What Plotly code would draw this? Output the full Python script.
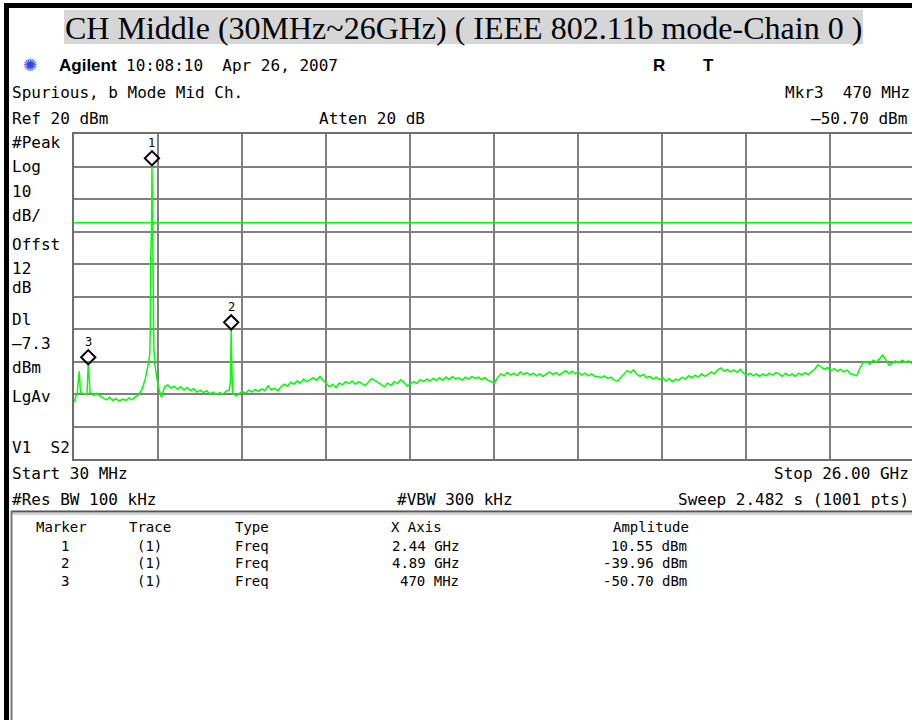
import plotly.graph_objects as go

# ---------------- data ----------------
start_ghz = 0.03
stop_ghz = 26.0
ref_dbm = 20
db_per_div = 10
n_div = 10
display_line_dbm = -7.3

floor_start_ghz = 0.03
floor_step_ghz = 0.1
floor_dbm = [
    -62.5, -59.5, -59.6, -59.8, -60.2, -59.6, -60.4, -59.8, -60.6, -61.2,
    -61.8, -61.0, -62.0, -61.4, -62.2, -61.6, -62.0, -61.2, -61.8, -60.8,
    -60.2, -58.5, -55.5, -50.5, -8.0, -51.0, -57.5, -61.0, -57.8, -57.2,
    -58.2, -57.6, -58.6, -57.8, -58.8, -58.0, -59.0, -58.4, -59.4, -58.8,
    -59.6, -59.0, -60.0, -59.4, -60.2, -59.6, -60.0, -59.2, -58.8, -59.5,
    -60.6, -60.0, -59.2, -59.8, -58.8, -59.4, -58.6, -59.2, -58.4, -59.0,
    -57.5, -58.8, -58.2, -59.0, -57.8, -57.0, -57.6, -56.4, -57.0, -56.0,
    -56.6, -55.4, -56.2, -55.6, -55.0, -55.8, -54.6, -55.8, -56.8, -57.8,
    -57.0, -58.0, -56.6, -57.2, -56.2, -56.8, -56.0, -57.0, -56.2, -56.8,
    -57.4, -56.4, -55.2, -55.8, -56.4, -57.2, -57.8, -56.6, -57.4, -56.2,
    -56.8, -55.6, -56.4, -57.6, -57.0, -56.2, -56.8, -55.6, -56.2, -55.4,
    -56.0, -55.2, -55.8, -55.0, -55.8, -54.8, -55.6, -54.6, -55.4, -55.0,
    -55.8, -54.8, -55.4, -54.6, -55.2, -54.8, -55.6, -55.0, -55.8, -56.2,
    -56.6, -54.8, -53.8, -54.4, -53.4, -54.2, -53.6, -54.4, -53.2, -54.0,
    -53.4, -54.2, -53.6, -54.4, -53.8, -54.6, -53.8, -53.2, -54.0, -53.4,
    -54.2, -53.6, -52.8, -53.8, -53.0, -53.8, -53.4, -54.2, -53.6, -54.4,
    -53.8, -54.6, -54.6, -55.0, -54.4, -55.2, -54.8, -55.8, -56.0, -55.0,
    -53.8, -52.8, -53.4, -52.6, -54.0, -54.6, -54.0, -55.0, -54.6, -55.4,
    -54.8, -55.6, -55.0, -56.0, -55.2, -56.2, -55.4, -55.8, -54.8, -55.4,
    -54.4, -55.0, -54.2, -54.8, -53.8, -54.6, -54.0, -53.2, -53.8, -52.6,
    -52.0, -53.0, -52.4, -53.2, -52.6, -53.4, -52.4, -53.6, -54.2, -53.6,
    -54.4, -53.8, -54.6, -53.8, -54.4, -53.6, -54.2, -53.4, -53.8, -54.6,
    -53.6, -54.4, -53.8, -54.6, -53.6, -54.2, -53.4, -54.0, -53.2, -52.4,
    -51.0, -51.6, -52.4, -51.8, -52.8, -52.2, -53.0, -52.4, -53.2, -52.6,
    -53.8, -54.0, -54.4, -52.0, -50.4, -50.0, -50.8, -49.6, -50.2, -49.2,
    -48.0, -49.6, -51.2, -50.4, -49.8, -50.4, -49.6, -50.2, -49.8, -50.6,
]

spike_freq_ghz = [0.19, 0.47, 2.37, 2.39, 2.40, 2.44, 2.466, 2.48, 2.50,
                  4.865, 4.89, 4.905, 26.0]
spike_dbm = [-53.0, -50.7, -48.0, -40.0, -19.0, 10.55, -13.0, -40.0, -46.0,
             -56.0, -39.96, -50.0, -50.0]

marker_ids = ["1", "2", "3"]
marker_freq_ghz = [2.44, 4.89, 0.47]
marker_dbm = [10.55, -39.96, -50.70]
marker_trace = ["(1)", "(1)", "(1)"]
marker_type = ["Freq", "Freq", "Freq"]
marker_freq_text = ["2.44 GHz", "4.89 GHz", "470 MHz"]
marker_amp_text = ["10.55 dBm", "-39.96 dBm", "-50.70 dBm"]

left_labels = ["#Peak", "Log", "10", "dB/", "Offst", "12", "dB", "Dl",
               "\u20137.3", "dBm", "LgAv", "V1  S2"]

# ---------------- layout geometry (pixels) ----------------
W, H = 912, 720
PL, PR, PT, PB = 74, 912, 134, 459
PW, PH = PR - PL, PB - PT
PX_PER_GHZ = 840 / (stop_ghz - start_ghz)
MONO = "DejaVu Sans Mono"
HS = 16  # header text size

def pxx(x):
    return (x - PL) / PW

def pxy(y):
    return (PB - y) / PH

# merge sweep
pts = [(floor_start_ghz + floor_step_ghz * i, v) for i, v in enumerate(floor_dbm)]
pts += list(zip(spike_freq_ghz, spike_dbm))
pts.sort(key=lambda p: p[0])
fx = [p[0] for p in pts]
fy = [p[1] for p in pts]

fig = go.Figure()

fig.add_trace(go.Scatter(x=fx, y=fy, mode="lines",
                         line=dict(color="#00ff00", width=1.5),
                         hoverinfo="skip", showlegend=False))

fig.add_trace(go.Scatter(x=[start_ghz, stop_ghz],
                         y=[display_line_dbm, display_line_dbm], mode="lines",
                         line=dict(color="#00ff00", width=1.5),
                         hoverinfo="skip", showlegend=False))

marker_offset_db = 2.0
fig.add_trace(go.Scatter(x=marker_freq_ghz,
                         y=[v + marker_offset_db for v in marker_dbm],
                         mode="markers",
                         marker=dict(symbol="diamond-open", size=11,
                                     color="black", line=dict(width=2, color="black")),
                         hoverinfo="skip", showlegend=False))

annotations = []
for mid, f, v in zip(marker_ids, marker_freq_ghz, marker_dbm):
    annotations.append(dict(x=f, y=v, xref="x", yref="y", text=mid,
                            showarrow=False, yshift=22,
                            font=dict(family=MONO, size=12, color="black")))

def txt(x, y, s, size=HS, anchor="left", family=MONO, color="black"):
    annotations.append(dict(x=pxx(x), y=pxy(y), xref="paper", yref="paper",
                            text=s, showarrow=False, xanchor=anchor,
                            yanchor="middle", borderpad=0,
                            font=dict(family=family, size=size, color=color)))

# title
txt(463, 28, "CH Middle (30MHz~26GHz) ( IEEE 802.11b mode-Chain 0 )",
    size=32, anchor="center", family="Liberation Serif")

# instrument header
txt(22, 65, "\u273a", size=17, color="#3344ee", family="DejaVu Sans")
txt(58, 65, "<b>Agilent</b>", size=17, family="Liberation Sans")
txt(125, 65, "10:08:10  Apr 26, 2007")
txt(652, 65, "<b>R</b>", size=17, family="Liberation Sans")
txt(702, 65, "<b>T</b>", size=17, family="Liberation Sans")
txt(11, 92, "Spurious, b Mode Mid Ch.")
txt(911, 92, "Mkr3  470 MHz", anchor="right")
txt(11, 119, "Ref 20 dBm")
txt(318, 119, "Atten 20 dB")
txt(908, 119, "\u201350.70 dBm", anchor="right")

left_label_y = [142, 166, 191, 215, 244, 268, 287, 319, 343, 367, 396, 447]
for s, y in zip(left_labels, left_label_y):
    txt(11, y, s)

txt(11, 473, "Start 30 MHz")
txt(910, 473, "Stop 26.00 GHz", anchor="right")
txt(11, 500, "#Res BW 100 kHz")
txt(396, 500, "#VBW 300 kHz")
txt(910, 500, "Sweep 2.482 s (1001 pts)", anchor="right")

TS = 14
txt(35, 527, "Marker", size=TS)
txt(128, 527, "Trace", size=TS)
txt(234, 527, "Type", size=TS)
txt(390, 527, "X Axis", size=TS)
txt(612, 527, "Amplitude", size=TS)
row_y = [546, 563, 581]
for i in range(3):
    y = row_y[i]
    txt(60, y, marker_ids[i], size=TS)
    txt(136, y, marker_trace[i], size=TS)
    txt(234, y, marker_type[i], size=TS)
    txt(460, y, marker_freq_text[i], size=TS, anchor="right")
    txt(688, y, marker_amp_text[i], size=TS, anchor="right")

shapes = [
    # title background
    dict(type="rect", xref="paper", yref="paper", x0=pxx(64), x1=pxx(863),
         y0=pxy(44), y1=pxy(10), fillcolor="#d6d6d6", line=dict(width=0),
         layer="below"),
    # outer black frame (top + left)
    dict(type="rect", xref="paper", yref="paper", x0=pxx(4), x1=pxx(920),
         y0=pxy(8), y1=pxy(3), fillcolor="black", line=dict(width=0)),
    dict(type="rect", xref="paper", yref="paper", x0=pxx(4), x1=pxx(9),
         y0=pxy(730), y1=pxy(3), fillcolor="black", line=dict(width=0)),
    # table box
    dict(type="line", xref="paper", yref="paper", x0=pxx(11), x1=pxx(920),
         y0=pxy(511.5), y1=pxy(511.5), line=dict(color="#555555", width=2)),
    dict(type="line", xref="paper", yref="paper", x0=pxx(11), x1=pxx(920),
         y0=pxy(514), y1=pxy(514), line=dict(color="#aaaaaa", width=1)),
    dict(type="line", xref="paper", yref="paper", x0=pxx(11.5), x1=pxx(11.5),
         y0=pxy(730), y1=pxy(511), line=dict(color="#777777", width=2)),
]

fig.update_layout(
    width=W, height=H,
    margin=dict(l=PL, r=W - PR, t=PT, b=H - PB, autoexpand=False),
    paper_bgcolor="white", plot_bgcolor="white",
    annotations=annotations, shapes=shapes,
    showlegend=False,
    xaxis=dict(range=[start_ghz, start_ghz + PW / PX_PER_GHZ],
               tick0=start_ghz, dtick=(stop_ghz - start_ghz) / n_div,
               showgrid=True, gridcolor="#808080", gridwidth=2,
               showticklabels=False, ticks="", zeroline=False,
               showline=True, linecolor="#6e6e6e", linewidth=2, mirror=True),
    yaxis=dict(range=[ref_dbm - db_per_div * n_div, ref_dbm],
               tick0=ref_dbm, dtick=db_per_div,
               showgrid=True, gridcolor="#808080", gridwidth=2,
               showticklabels=False, ticks="", zeroline=False,
               showline=True, linecolor="#6e6e6e", linewidth=2, mirror=False),
)

fig.write_html(
    "out.html",
    config={"displayModeBar": False},
    post_script="document.body.style.margin='0';document.body.style.overflow='hidden';",
)
